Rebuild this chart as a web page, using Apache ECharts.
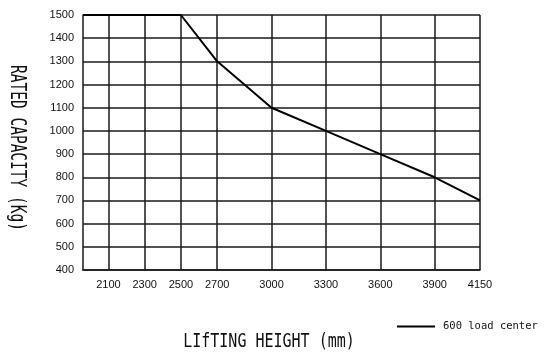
<!DOCTYPE html>
<html>
<head>
<meta charset="utf-8">
<script src="https://cdn.jsdelivr.net/npm/echarts@6/dist/echarts.min.js"></script>
<style>html,body{margin:0;padding:0;background:#fff}#c{width:550px;height:355px}</style>
</head>
<body>
<div id="c"></div>
<script>
const liftHeights = [1960, 2500, 2700, 3000, 3300, 3600, 3900, 4150];
const capacities = [1500, 1500, 1300, 1100, 1000, 900, 800, 700];
const xTickValues = [2100, 2300, 2500, 2700, 3000, 3300, 3600, 3900, 4150];
const xMin = 1960, xMax = 4150;
const yMin = 400, yMax = 1500, yStep = 100;
const seriesName = '600 load center';
const xTitle = 'LIfTING HEIGHT (mm)';
const yTitle = 'RATED CAPACITY (Kg)';

const lineColor = '#1a1a1a';
const labelFont = "'Liberation Sans Narrow', 'Arial Narrow', 'Liberation Sans', sans-serif";
const titleFont = "'DejaVu Sans Mono', monospace";
const plain = v => String(v);

const chart = echarts.init(document.getElementById('c'), null, {renderer: 'canvas'});
chart.setOption({
  animation: false,
  backgroundColor: '#fff',
  grid: {left: 83, top: 15, right: 70, bottom: 85, containLabel: false},
  xAxis: {
    type: 'value', min: xMin, max: xMax,
    axisLine: {show: true, lineStyle: {color: lineColor, width: 1.5}},
    axisTick: {show: false, customValues: xTickValues},
    axisLabel: {customValues: xTickValues, formatter: plain, color: '#111', fontFamily: labelFont, fontSize: 11, margin: 9},
    splitLine: {show: true, lineStyle: {color: lineColor, width: 1.5}}
  },
  yAxis: {
    type: 'value', min: yMin, max: yMax, interval: yStep,
    axisLine: {show: true, lineStyle: {color: lineColor, width: 1.5}},
    axisTick: {show: false},
    axisLabel: {formatter: plain, color: '#111', fontFamily: labelFont, fontSize: 11, margin: 9},
    splitLine: {show: true, lineStyle: {color: lineColor, width: 1.5}}
  },
  legend: {
    left: 392, top: 316, icon: 'rect', itemWidth: 38, itemHeight: 2,
    textStyle: {fontFamily: titleFont, fontSize: 10.5, color: '#111', padding: [0, 0, 0, 3]},
    data: [seriesName]
  },
  series: [{
    name: seriesName, type: 'line',
    data: liftHeights.map((h, i) => [h, capacities[i]]),
    showSymbol: false, symbol: 'none',
    lineStyle: {color: '#000', width: 2},
    itemStyle: {color: '#000'}
  }],
  graphic: [
    {type: 'text', x: 269, y: 342, scaleY: 1.25,
     style: {text: xTitle, font: "15px " + titleFont, fill: '#111', textAlign: 'center', textVerticalAlign: 'middle'}},
    {type: 'text', x: 17, y: 148, rotation: -Math.PI / 2, scaleY: 1.5,
     style: {text: yTitle, font: "14.5px " + titleFont, fill: '#111', textAlign: 'center', textVerticalAlign: 'middle'}}
  ]
});
</script>
</body>
</html>
